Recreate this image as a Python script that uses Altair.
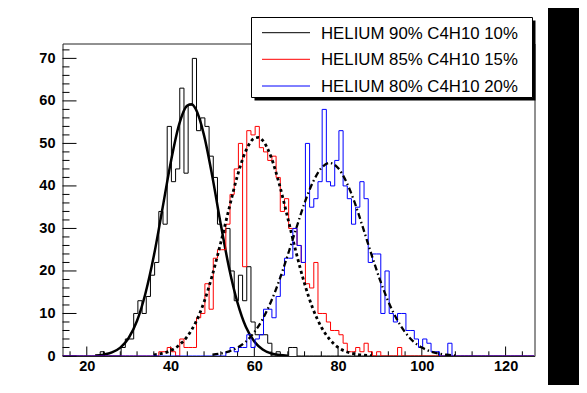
import altair as alt
import pandas as pd

# ---------------- data ----------------
X_MIN, X_MAX = 14.2, 126.9
Y_MAX = 73.5
FIRST_BIN = 14          # bin k spans [k + 0.2, k + 1.2]

black_start = 22
black_counts = [0, 1, 0, 0, 0, 0, 2, 4, 4, 10, 13, 10, 14, 19, 22, 34, 31, 54, 41, 44,
                63, 43, 59, 70, 53, 56, 54, 47, 42, 31, 29, 30, 20, 13, 19, 13, 21, 8,
                5, 5, 5, 3, 0, 1, 0, 0, 2, 2, 0]

red_start = 36
red_counts = [0, 1, 1, 2, 1, 0, 4, 2, 2, 2, 9, 10, 17, 11, 23, 25, 25, 31, 38, 44,
              50, 21, 53, 52, 54, 49, 48, 46, 47, 42, 34, 37, 30, 30, 26, 22, 17, 16,
              22, 10, 10, 8, 6, 6, 5, 3, 1, 1, 2, 1, 3, 1, 0, 1, 0, 0, 0, 0, 2, 0]

blue_start = 52
blue_counts = [0, 1, 2, 1, 2, 2, 5, 2, 4, 5, 11, 11, 9, 14, 19, 23, 23, 30, 26, 22,
               50, 35, 37, 41, 58, 41, 40, 46, 53, 40, 37, 31, 35, 41, 37, 22, 24, 24,
               10, 20, 10, 8, 10, 10, 6, 6, 4, 2, 4, 3, 1, 1, 0, 0, 3, 0]

black_fit_x = [22, 24, 26, 28, 30, 32, 34, 36, 38, 40, 42, 44, 45, 46, 48, 50, 52, 54,
               56, 58, 60, 62, 64, 66, 68]
black_fit_y = [0.11, 0.32, 0.83, 1.98, 4.24, 8.28, 14.7, 23.5, 34.3, 45.3, 54.3, 58.9,
               59.2, 58.1, 51.9, 42.1, 30.9, 20.6, 12.5, 6.8, 3.4, 1.54, 0.63, 0.23, 0.08]

red_fit_x = [36, 38, 40, 42, 44, 46, 48, 50, 52, 54, 56, 58, 60, 61, 62, 64, 66, 68, 70,
             72, 74, 76, 78, 80, 82, 84, 86, 88]
red_fit_y = [0.26, 0.6, 1.26, 2.5, 4.6, 7.9, 12.7, 19.1, 26.7, 34.8, 42.5, 48.3, 51.2,
             51.4, 50.7, 46.8, 40.3, 32.4, 24.3, 17.0, 11.1, 6.8, 3.9, 2.0, 1.0, 0.47,
             0.2, 0.08]

blue_fit_x = [50, 52, 54, 56, 58, 60, 62, 64, 66, 68, 70, 72, 74, 76, 78, 80, 82, 84, 86,
              88, 90, 92, 94, 96, 98, 100, 102, 104, 106, 108]
blue_fit_y = [0.29, 0.58, 1.1, 2.0, 3.4, 5.6, 8.7, 12.8, 17.9, 23.8, 30.0, 36.0, 40.9,
              44.2, 45.4, 44.2, 40.9, 36.0, 30.0, 23.8, 17.9, 12.8, 8.7, 5.6, 3.4, 2.0,
              1.1, 0.58, 0.29, 0.14]

x_major = [20, 40, 60, 80, 100, 120]
x_minor = [16, 24, 28, 32, 36, 44, 48, 52, 56, 64, 68, 72, 76, 84, 88, 92, 96, 104,
           108, 112, 116, 124]
y_major = [0, 10, 20, 30, 40, 50, 60, 70]
y_minor = [2, 4, 6, 8, 12, 14, 16, 18, 22, 24, 26, 28, 32, 34, 36, 38, 42, 44, 46, 48,
           52, 54, 56, 58, 62, 64, 66, 68, 72]

legend_labels = ["HELIUM 90% C4H10 10%", "HELIUM 85% C4H10 15%", "HELIUM 80% C4H10 20%"]
legend_colors = ["#000000", "#ff0000", "#0000ff"]

# ---------------- layout ----------------
W, H = 472, 312.5
FONT = "Liberation Sans"

xs = alt.Scale(domain=[X_MIN, X_MAX], nice=False, zero=False)
ys = alt.Scale(domain=[0, Y_MAX], nice=False, zero=True)

X_AX = alt.Axis(values=x_major, labelFont=FONT, labelFontWeight="bold", labelFontSize=14.5,
                labelColor="black", labelPadding=14.5, labelBaseline="alphabetic",
                ticks=False, domain=False, grid=False, title=None, labelFlush=False,
                labelOverlap=False, labelBound=False, format="d")
Y_AX = alt.Axis(values=y_major, labelFont=FONT, labelFontWeight="bold", labelFontSize=14.5,
                labelColor="black", labelPadding=7.5, labelBaseline="middle",
                ticks=False, domain=False, grid=False, title=None, labelFlush=False,
                labelOverlap=False, labelBound=False, format="d")


def hist_frame(start, counts):
    n_bins = int(X_MAX - X_MIN)
    full = [0] * n_bins
    for i, c in enumerate(counts):
        full[start - FIRST_BIN + i] = c
    xv = [X_MIN + i for i in range(n_bins)] + [X_MAX]
    yv = full + [full[-1]]
    return pd.DataFrame({"x": xv, "y": yv})


def hist_layer(start, counts, color):
    return alt.Chart(hist_frame(start, counts)).mark_line(
        interpolate="step-after", color=color, strokeWidth=1, clip=True
    ).encode(x=alt.X("x:Q", scale=xs, axis=X_AX), y=alt.Y("y:Q", scale=ys, axis=Y_AX))


def fit_layer(fx, fy, width, dash=None):
    kw = dict(interpolate="monotone", color="black", strokeWidth=width, clip=True)
    if dash is not None:
        kw["strokeDash"] = dash
    return alt.Chart(pd.DataFrame({"x": fx, "y": fy})).mark_line(**kw).encode(
        x=alt.X("x:Q", scale=xs, axis=X_AX), y=alt.Y("y:Q", scale=ys, axis=Y_AX))


# right black strip of the canvas
strip = alt.Chart(pd.DataFrame({"a": [0]})).mark_rect(color="black").encode(
    x=alt.value(485.5), x2=alt.value(530), y=alt.value(-40), y2=alt.value(360))

# inner ticks
ymaj = alt.Chart(pd.DataFrame({"v": y_major})).mark_rule(color="black", strokeWidth=1).encode(
    y=alt.Y("v:Q", scale=ys, axis=Y_AX), x=alt.value(0), x2=alt.value(14))
ymin = alt.Chart(pd.DataFrame({"v": y_minor})).mark_rule(color="black", strokeWidth=1).encode(
    y=alt.Y("v:Q", scale=ys, axis=Y_AX), x=alt.value(0), x2=alt.value(7))
xmaj = alt.Chart(pd.DataFrame({"v": x_major})).mark_rule(color="black", strokeWidth=1).encode(
    x=alt.X("v:Q", scale=xs, axis=X_AX), y=alt.value(H), y2=alt.value(H - 9.5))
xmin = alt.Chart(pd.DataFrame({"v": x_minor})).mark_rule(color="black", strokeWidth=1).encode(
    x=alt.X("v:Q", scale=xs, axis=X_AX), y=alt.value(H), y2=alt.value(H - 4.7))

h_black = hist_layer(black_start, black_counts, "#000000")
f_black = fit_layer(black_fit_x, black_fit_y, 2.5)
h_red = hist_layer(red_start, red_counts, "#ff0000")
f_red = fit_layer(red_fit_x, red_fit_y, 2.8, [3, 3])
h_blue = hist_layer(blue_start, blue_counts, "#0000ff")
f_blue = fit_layer(blue_fit_x, blue_fit_y, 2.3, [6, 3, 1.5, 3])

# legend (pixel positions relative to the plot area)
one = pd.DataFrame({"a": [0]})
shadow = alt.Chart(one).mark_rect(color="black").encode(
    x=alt.value(192), x2=alt.value(473), y=alt.value(-23), y2=alt.value(57))
box = alt.Chart(one).mark_rect(fill="white", stroke="black", strokeWidth=1).encode(
    x=alt.value(189), x2=alt.value(470), y=alt.value(-26), y2=alt.value(54))
leg = pd.DataFrame({"label": legend_labels, "color": legend_colors,
                    "ly": [-10.8, 15.8, 42.5]})
leg["ty"] = leg["ly"] + 6.0
leg_lines = alt.Chart(leg).mark_rule(strokeWidth=1).encode(
    y=alt.Y("ly:Q", scale=None, axis=None), x=alt.value(199.5), x2=alt.value(247.5),
    color=alt.Color("color:N", scale=None))
leg_text = alt.Chart(leg).mark_text(align="left", baseline="alphabetic", font=FONT,
                                    fontSize=16.8, color="black").encode(
    y=alt.Y("ty:Q", scale=None, axis=None), x=alt.value(258.5), text="label:N")

chart = alt.layer(
    strip, ymaj, ymin, xmaj, xmin,
    h_black, f_black, h_red, f_red, h_blue, f_blue,
    shadow, box, leg_lines, leg_text
).properties(
    width=W, height=H,
    autosize=alt.AutoSizeParams(type="none"),
    padding={"left": 54.5, "top": 35.5, "right": 44.5, "bottom": 29},
).configure(background="white").configure_view(stroke="#222222", strokeWidth=1)

chart.save("out.html", embed_options={"renderer": "svg", "actions": False})
